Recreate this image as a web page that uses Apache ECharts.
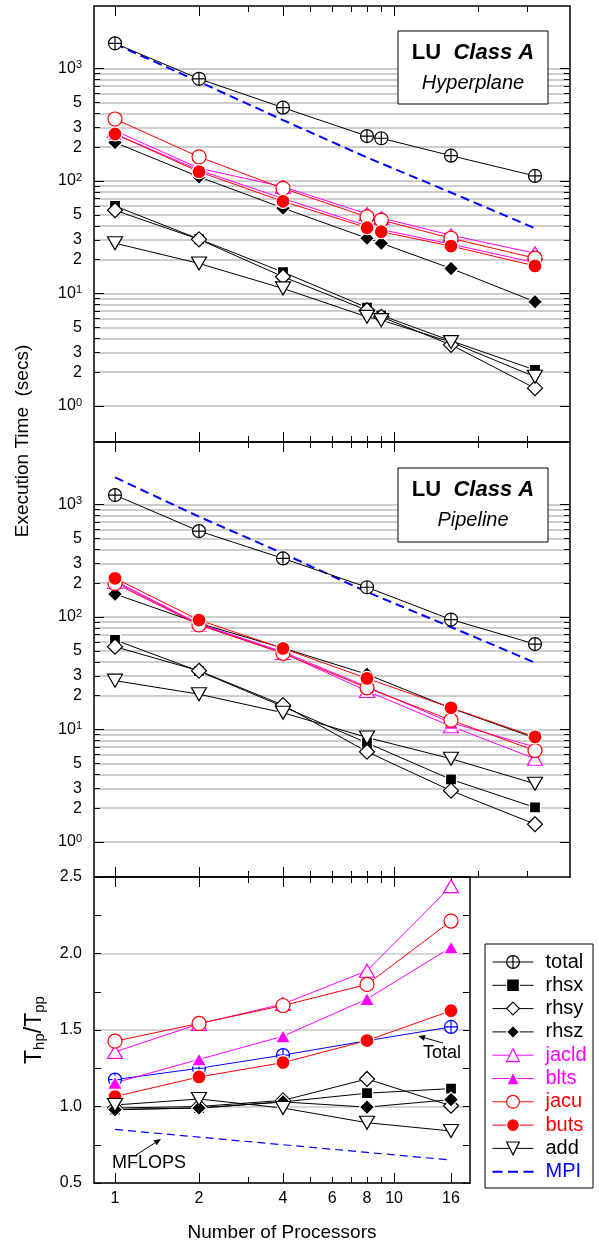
<!DOCTYPE html>
<html><head><meta charset="utf-8">
<script src="https://cdn.jsdelivr.net/npm/echarts@6/dist/echarts.min.js"></script>
<style>html,body{margin:0;padding:0;background:#fff}#c{width:599px;height:1243px}</style>
</head><body><div id="c"></div>
<script>
// ================= DATA =================
const procsHyper = [1, 2, 4, 8, 9, 16, 32];
const procsPipe  = [1, 2, 4, 8, 16, 32];
const procsMPI   = [1, 2, 4, 8, 16, 32];
const procsRatio = [1, 2, 4, 8, 16];

// Hyperplane execution times (secs)
const hyperTotal = [1675, 811, 449, 251, 240, 168, 111];
const hyperRhsx  = [60, 30.5, 15.5, 7.5, 6.4, 3.8, 2.09];
const hyperRhsy  = [55, 30.3, 14.1, 7.1, 6.2, 3.5, 1.44];
const hyperRhsz  = [220, 109, 57.5, 31, 28, 16.7, 8.45];
const hyperJacld = [280, 130, 89, 51, 47, 33, 22.8];
const hyperBlts  = [262, 125, 70, 40, 37, 27.5, 18.8];
const hyperJacu  = [356, 164, 86, 48, 45, 31, 20.6];
const hyperButs  = [262, 121, 66, 38.5, 35.4, 26.4, 17.6];
const hyperAdd   = [28, 18.5, 11.1, 6.2, 5.8, 3.7, 1.82];
const hyperMPI   = [1652, 764, 348, 162, 79, 38];

// Pipeline execution times (secs)
const pipeTotal = [1214, 581, 332, 184, 95, 57.5];
const pipeRhsx  = [62.5, 33, 16, 7.6, 3.6, 2.03];
const pipeRhsy  = [54.5, 33.3, 16.5, 6.35, 2.86, 1.44];
const pipeRhsz  = [160, 88, 53, 31, 15.5, 8.4];
const pipeJacld = [205, 86, 48, 22, 10.7, 5.5];
const pipeBlts  = [210, 87, 49, 24, 11.5, 7];
const pipeJacu  = [199, 85, 47.6, 23.5, 12.1, 6.5];
const pipeButs  = [221, 94, 52.6, 28.5, 15.6, 8.6];
const pipeAdd   = [27.2, 20.6, 14.1, 8.5, 5.5, 3.3];
const pipeMPI   = [1745, 780, 368, 167, 81.5, 39.3];

// Ratio Thp/Tpp
const ratioTotal = [1.176, 1.25, 1.336, 1.43, 1.52];
const ratioRhsx  = [0.98, 0.99, 1.03, 1.087, 1.117];
const ratioRhsy  = [0.99, 1.0, 1.04, 1.18, 1.005];
const ratioRhsz  = [0.98, 0.99, 1.03, 0.996, 1.045];
const ratioJacld = [1.357, 1.54, 1.67, 1.887, 2.44];
const ratioBlts  = [1.155, 1.308, 1.459, 1.703, 2.04];
const ratioJacu  = [1.427, 1.543, 1.66, 1.798, 2.212];
const ratioButs  = [1.065, 1.193, 1.287, 1.431, 1.626];
const ratioAdd   = [1.01, 1.049, 0.99, 0.894, 0.84];
const ratioMPI   = [0.85, 0.80, 0.75, 0.70, 0.65];

// Tick labels / tick positions
const xTickLabels    = [1, 2, 4, 6, 8, 10, 16];
const xMinorTicks    = [1, 2, 3, 4, 5, 6, 7, 8, 9, 10, 20, 30];
const xMajorTicks    = [1, 2, 4, 10];
const xMinorTicksBot = [1, 2, 3, 4, 5, 6, 7, 8, 9, 10, 16];
const xMajorTicksBot = [1, 2, 4, 10, 16];
const yLogLabels     = [1, 2, 3, 5, 10, 20, 30, 50, 100, 200, 300, 500, 1000];
const yLogMajor      = [1, 10, 100, 1000];
const yLogMinor      = [1,2,3,4,5,6,7,8,9,10,20,30,40,50,60,70,80,90,100,200,300,400,500,600,700,800,900,1000];
const legendNames    = ['total','rhsx','rhsy','rhsz','jacld','blts','jacu','buts','add','MPI'];

// ================= CHART =================
const L2 = v => Math.log2(v);
const L10 = v => Math.log10(v);
const FONT = 'Liberation Sans, Arial, Helvetica, sans-serif';
const BLACK = '#000', RED = '#ff0000', MAG = '#ff00ff', BLUE = '#0000ff';

const grids = [
  {left: 94, top: 6,   width: 476, height: 436},
  {left: 94, top: 442, width: 476, height: 435},
  {left: 94, top: 877, width: 376, height: 312}
];
const X_MIN = -0.25, X_MAX_WIDE = 5.4167, X_MAX_NARROW = 4.226;
const Y_TOP = [-0.32, 3.556], Y_MID = [-0.311, 3.556];

const xAxes = [], yAxes = [];
function addX(g, max, minor, major, labels, name) {
  const base = {type: 'value', gridIndex: g, min: X_MIN, max: max,
    splitLine: {show: false}, axisLine: {show: false, onZero: false}, axisLabel: {show: false}};
  const idx = xAxes.length;
  ['bottom', 'top'].forEach(pos => {
    const main = Object.assign({}, base, {position: pos,
      axisLine: {show: true, onZero: false, lineStyle: {color: BLACK, width: 1.5}},
      axisTick: {show: true, inside: true, length: 6, customValues: minor.map(L2), lineStyle: {color: BLACK, width: 1}}
    });
    if (pos === 'bottom' && labels) {
      main.axisLabel = {show: true, customValues: labels.map(L2), color: BLACK, fontSize: 16, fontFamily: FONT, margin: 8,
        formatter: v => String(Math.round(Math.pow(2, v)))};
      main.name = name; main.nameLocation = 'middle'; main.nameGap = 40;
      main.nameTextStyle = {fontSize: 19, color: BLACK, fontFamily: FONT};
    }
    xAxes.push(main);
    xAxes.push(Object.assign({}, base, {position: pos,
      axisTick: {show: true, inside: true, length: 10, customValues: major.map(L2), lineStyle: {color: BLACK, width: 1}}}));
  });
  return idx;
}
function logLabel(v) {
  const e = Math.round(v);
  if (Math.abs(v - e) < 1e-6) return '{b|10}{sup|' + e + '}';
  const lead = Math.round(Math.pow(10, v - Math.floor(v + 1e-9)));
  return '{b|' + lead + '}';
}
function addYLog(g, range) {
  const base = {type: 'value', gridIndex: g, min: range[0], max: range[1],
    splitLine: {show: false}, axisLine: {show: false, onZero: false}, axisLabel: {show: false}};
  const idx = yAxes.length;
  ['left', 'right'].forEach(pos => {
    const main = Object.assign({}, base, {position: pos,
      axisLine: {show: true, onZero: false, lineStyle: {color: BLACK, width: 1.5}},
      axisTick: {show: true, inside: true, length: 6, customValues: yLogMinor.map(L10), lineStyle: {color: BLACK, width: 1}}
    });
    if (pos === 'left') {
      main.splitLine = {show: true, lineStyle: {color: '#bdbdbd', width: 1.5}};
      main.axisLabel = {show: true, customValues: yLogLabels.map(L10), margin: 12, formatter: logLabel,
        rich: {b: {fontSize: 16, color: BLACK, fontFamily: FONT},
               sup: {fontSize: 11, color: BLACK, fontFamily: FONT, padding: [0, 0, 7, 0]}}};
    }
    yAxes.push(main);
    yAxes.push(Object.assign({}, base, {position: pos,
      axisTick: {show: true, inside: true, length: 10, customValues: yLogMajor.map(L10), lineStyle: {color: BLACK, width: 1}}}));
  });
  return idx;
}
function addYRatio(g) {
  const idx = yAxes.length;
  ['left', 'right'].forEach(pos => {
    const a = {type: 'value', gridIndex: g, position: pos, min: 0.5, max: 2.5, interval: 0.5,
      axisLine: {show: true, onZero: false, lineStyle: {color: BLACK, width: 1.5}},
      axisTick: {show: true, inside: true, length: 7, lineStyle: {color: BLACK, width: 1}},
      minorTick: {show: true, splitNumber: 2, length: 7, lineStyle: {color: BLACK, width: 1}},
      splitLine: {show: false}, axisLabel: {show: false}};
    if (pos === 'left') {
      a.splitLine = {show: true, lineStyle: {color: '#c8c8c8', width: 1.5}};
      a.axisLabel = {show: true, color: BLACK, fontSize: 16, fontFamily: FONT, margin: 12, formatter: v => v.toFixed(1)};
      a.name = '{t|T}{s|hp}{t|/T}{s|pp}';
      a.nameLocation = 'middle'; a.nameGap = 47; a.nameRotate = 90;
      a.nameTextStyle = {rich: {t: {fontSize: 23, color: BLACK, fontFamily: FONT},
                                s: {fontSize: 15, color: BLACK, fontFamily: FONT, padding: [9, 0, 0, 0]}}};
    }
    yAxes.push(a);
  });
  return idx;
}

const x0 = addX(0, X_MAX_WIDE, xMinorTicks, xMajorTicks, null);
const x1 = addX(1, X_MAX_WIDE, xMinorTicks, xMajorTicks, null);
const x2 = addX(2, X_MAX_NARROW, xMinorTicksBot, xMajorTicksBot, xTickLabels, 'Number of Processors');
const y0 = addYLog(0, Y_TOP);
const y1 = addYLog(1, Y_MID);
const y2 = addYRatio(2);

const CROSS = 'path://M10,0A10,10,0,1,1,-10,0A10,10,0,1,1,10,0ZM-10,0L10,0M0,-10L0,10';
const MK = {
  total: {symbol: CROSS, size: 13, line: BLACK, fill: '#fff', stroke: BLACK},
  rhsx:  {symbol: 'rect', size: 11, line: BLACK, fill: BLACK, stroke: '#fff'},
  rhsy:  {symbol: 'diamond', size: 15, line: BLACK, fill: '#fff', stroke: BLACK},
  rhsz:  {symbol: 'diamond', size: 15, line: BLACK, fill: BLACK, stroke: '#fff'},
  jacld: {symbol: 'triangle', size: [15, 13], line: MAG, fill: '#fff', stroke: MAG},
  blts:  {symbol: 'triangle', size: [15, 13], line: MAG, fill: MAG, stroke: '#fff'},
  jacu:  {symbol: 'circle', size: 14, line: RED, fill: '#fff', stroke: RED},
  buts:  {symbol: 'circle', size: 14, line: RED, fill: RED, stroke: '#fff'},
  add:   {symbol: 'triangle', size: [15, 13], rotate: 180, line: BLACK, fill: '#fff', stroke: BLACK}
};

const series = [];
function addSeries(name, xi, yi, procs, vals, tf, over) {
  const st = Object.assign({}, MK[name], over || {});
  series.push({
    name: name, type: 'line', xAxisIndex: xi, yAxisIndex: yi,
    data: procs.map((p, i) => [L2(p), tf(vals[i])]),
    symbol: st.symbol, symbolSize: st.size, symbolRotate: st.rotate || 0, symbolKeepAspect: false,
    lineStyle: {color: st.line, width: 1},
    itemStyle: {color: st.fill, borderColor: st.stroke, borderWidth: 1.2},
    emphasis: {disabled: true}, silent: true
  });
}
function addMPI(xi, yi, procs, vals, tf, width, dash) {
  series.push({
    name: 'MPI', type: 'line', xAxisIndex: xi, yAxisIndex: yi, symbol: 'none',
    data: procs.map((p, i) => [L2(p), tf(vals[i])]),
    lineStyle: {color: BLUE, width: width, type: dash},
    itemStyle: {color: BLUE}, emphasis: {disabled: true}, silent: true, z: 1
  });
}
const id = v => v;
const hyper = {total: hyperTotal, rhsx: hyperRhsx, rhsy: hyperRhsy, rhsz: hyperRhsz, jacld: hyperJacld,
               blts: hyperBlts, jacu: hyperJacu, buts: hyperButs, add: hyperAdd};
const pipe  = {total: pipeTotal, rhsx: pipeRhsx, rhsy: pipeRhsy, rhsz: pipeRhsz, jacld: pipeJacld,
               blts: pipeBlts, jacu: pipeJacu, buts: pipeButs, add: pipeAdd};
const ratio = {total: ratioTotal, rhsx: ratioRhsx, rhsy: ratioRhsy, rhsz: ratioRhsz, jacld: ratioJacld,
               blts: ratioBlts, jacu: ratioJacu, buts: ratioButs, add: ratioAdd};
const order = ['total','rhsx','rhsy','rhsz','jacld','blts','jacu','buts','add'];

addMPI(x0, y0, procsMPI, hyperMPI, L10, 2, [9, 5]);
order.forEach(n => addSeries(n, x0, y0, procsHyper, hyper[n], L10));
addMPI(x1, y1, procsMPI, pipeMPI, L10, 2, [9, 5]);
order.forEach(n => addSeries(n, x1, y1, procsPipe, pipe[n], L10));
addMPI(x2, y2, procsRatio, ratioMPI, id, 1.2, [8, 5]);
order.forEach(n => addSeries(n, x2, y2, procsRatio, ratio[n], id,
  n === 'total' ? {line: BLUE, stroke: BLUE} : null));

// Legend
const legendColors = {jacld: MAG, blts: MAG, jacu: RED, buts: RED, MPI: BLUE};
const legendData = legendNames.map(n => {
  const d = {name: n, textStyle: {color: legendColors[n] || BLACK}};
  if (n === 'MPI') {
    d.icon = 'path://M0,0h10v2h-10zM15.5,0h10v2h-10zM31,0h10v2h-10z';
    d.itemStyle = {color: BLUE, borderWidth: 0};
  }
  return d;
});

function arrow(x1, y1, x2, y2, len, half) {
  const dx = x2 - x1, dy = y2 - y1, d = Math.hypot(dx, dy), ux = dx / d, uy = dy / d;
  const bx = x2 - ux * len, by = y2 - uy * len;
  return [
    {type: 'line', shape: {x1: x1, y1: y1, x2: bx, y2: by}, style: {stroke: BLACK, lineWidth: 1}, z: 50},
    {type: 'polygon', shape: {points: [[x2, y2], [bx - uy * half, by + ux * half], [bx + uy * half, by - ux * half]]},
     style: {fill: BLACK}, z: 50}
  ];
}
function labelBox(x, y, w, h, sub) {
  return {type: 'group', x: x, y: y, z: 100, children: [
    {type: 'rect', z: 100, shape: {x: 0, y: 0, width: w, height: h}, style: {fill: '#fff', stroke: BLACK, lineWidth: 1}},
    {type: 'text', z: 101, x: w / 2, y: 22, style: {text: '{b|LU}  {bi|Class A}', align: 'center', verticalAlign: 'middle',
      fontSize: 22, fontFamily: FONT, fontWeight: 'bold', fill: BLACK,
      rich: {b: {fontSize: 22, fontWeight: 'bold', fontFamily: FONT, fill: BLACK},
             bi: {fontSize: 22, fontWeight: 'bold', fontStyle: 'italic', fontFamily: FONT, fill: BLACK}}}},
    {type: 'text', z: 101, x: w / 2, y: 52, style: {text: sub, align: 'center', verticalAlign: 'middle',
      fontSize: 20, fontStyle: 'italic', fontFamily: FONT, fill: BLACK}}
  ]};
}

const graphics = [
  labelBox(398, 31, 150, 73, 'Hyperplane'),
  labelBox(398, 468, 150, 74, 'Pipeline'),
  {type: 'text', x: 23, y: 441, rotation: Math.PI / 2, z: 60,
   style: {text: 'Execution Time  (secs)', align: 'center', verticalAlign: 'middle', fontSize: 19, fontFamily: FONT, fill: BLACK}},
  {type: 'rect', shape: {x: 485, y: 944, width: 108, height: 244}, style: {fill: '#fff', stroke: BLACK, lineWidth: 1}, z: -1},
  {type: 'text', x: 442, y: 1053, z: 60,
   style: {text: 'Total', align: 'center', verticalAlign: 'middle', fontSize: 18, fontFamily: FONT, fill: BLACK}},
  {type: 'text', x: 149, y: 1163, z: 60,
   style: {text: 'MFLOPS', align: 'center', verticalAlign: 'middle', fontSize: 18, fontFamily: FONT, fill: BLACK}}
].concat(arrow(443, 1043, 418, 1036, 7, 3)).concat(arrow(136, 1155, 161, 1139, 7, 3));

const chart = echarts.init(document.getElementById('c'), null, {renderer: 'canvas'});
chart.setOption({
  animation: false,
  backgroundColor: '#fff',
  textStyle: {fontFamily: FONT},
  grid: grids,
  xAxis: xAxes,
  yAxis: yAxes,
  legend: {
    show: true, orient: 'vertical', left: 492, top: 952, padding: 0, itemGap: 3.3,
    itemWidth: 41, itemHeight: 16, selectedMode: false,
    textStyle: {fontSize: 20, fontFamily: FONT, padding: [0, 0, 0, 7]},
    itemStyle: {borderWidth: 1.2},
    lineStyle: {width: 1},
    data: legendData
  },
  graphic: graphics,
  series: series
});
</script>
</body></html>
